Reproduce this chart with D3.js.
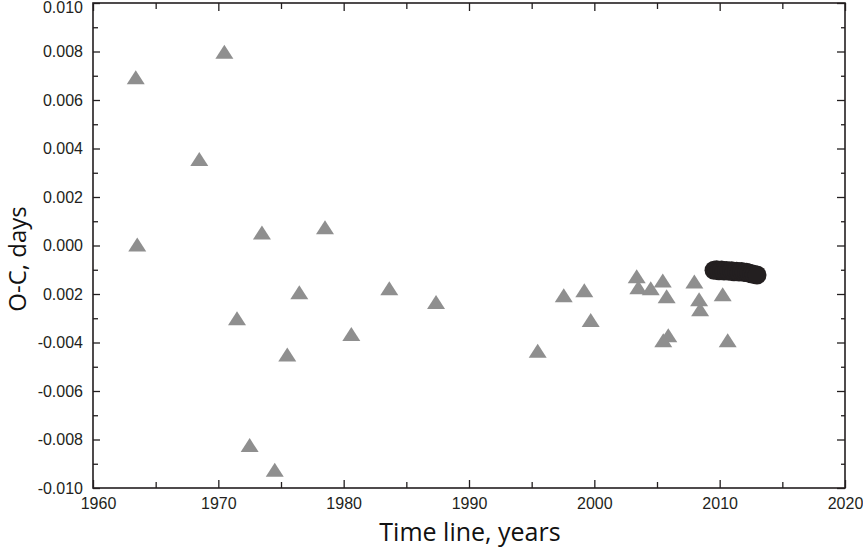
<!DOCTYPE html>
<html>
<head>
<meta charset="utf-8">
<script src="https://cdn.jsdelivr.net/npm/d3@7"></script>
<style>
  html, body { margin: 0; padding: 0; background: #fff; }
  svg { display: block; }
</style>
</head>
<body>
<svg id="chart" width="863" height="547"></svg>
<script>
// ---- Data ----
const triYears = [1963.41, 1970.48, 1968.48, 1963.53, 1973.48, 1978.51, 1976.46, 1983.64, 1987.37,
  1971.49, 1980.61, 1975.50, 1972.50, 1974.50, 1997.56, 1999.20, 1999.71, 1995.48,
  2003.38, 2003.51, 2004.50, 2005.46, 2005.77, 2005.90, 2005.50, 2007.98, 2008.36, 2008.44,
  2010.24, 2010.64];
const triOC = [0.00694, 0.00799, 0.00357, 0.00004, 0.00054, 0.00075, -0.00193, -0.00176, -0.00233,
  -0.00300, -0.00365, -0.00449, -0.00823, -0.00925, -0.00205, -0.00185, -0.00307, -0.00434,
  -0.00127, -0.00172, -0.00176, -0.00144, -0.00209, -0.00370, -0.00391, -0.00148, -0.00222, -0.00263,
  -0.00201, -0.00391];

const dotYears = [2009.55, 2009.75, 2009.95, 2010.15, 2010.35, 2010.55, 2010.75, 2010.95, 2011.15,
  2011.35, 2011.55, 2011.75, 2011.95, 2012.15, 2012.35, 2012.55, 2012.75, 2012.98];
const dotOC = [-0.00102, -0.00100, -0.00104, -0.00101, -0.00105, -0.00103, -0.00106, -0.00104, -0.00108,
  -0.00106, -0.00109, -0.00107, -0.00111, -0.00110, -0.00114, -0.00117, -0.00120, -0.00122];

const xTickValues = [1960, 1970, 1980, 1990, 2000, 2010, 2020];
const xTickLabels = ["1960", "1970", "1980", "1990", "2000", "2010", "2020"];
const yTickValues = [0.010, 0.008, 0.006, 0.004, 0.002, 0.000, -0.002, -0.004, -0.006, -0.008, -0.010];
const yTickLabels = ["0.010", "0.008", "0.006", "0.004", "0.002", "0.000", "0.002", "-0.004", "-0.006", "-0.008", "-0.010"];

const xTitle = "Time line, years";
const yTitle = "O-C, days";

// ---- Layout ----
const svg = d3.select("#chart");
const pLeft = 93, pRight = 845, pTop = 3, pBottom = 488;
const ink = "#231f20";

const x = d3.scaleLinear().domain([1960, 2020]).range([pLeft, pRight]);
const y = d3.scaleLinear().domain([-0.010, 0.010]).range([pBottom, pTop]);

const tickFont = "'Liberation Sans', Arial, sans-serif";

// Minor/major ticks (inward) on all four sides
const xMinor = [1965, 1975, 1985, 1995, 2005, 2015];
const yMinor = [-0.009, -0.007, -0.005, -0.003, -0.001, 0.001, 0.003, 0.005, 0.007, 0.009];

const bottomAxis = d3.axisBottom(x).tickValues(xTickValues).tickSizeInner(-8).tickSizeOuter(0)
  .tickFormat((d, i) => xTickLabels[i]).tickPadding(10);
const bottomMinor = d3.axisBottom(x).tickValues(xMinor).tickSizeInner(-6).tickSizeOuter(0).tickFormat("");
const topAxis = d3.axisTop(x).tickValues(xTickValues).tickSizeInner(-8).tickSizeOuter(0).tickFormat("");
const topMinor = d3.axisTop(x).tickValues(xMinor).tickSizeInner(-6).tickSizeOuter(0).tickFormat("");

const leftAxis = d3.axisLeft(y).tickValues(yTickValues).tickSizeInner(-7).tickSizeOuter(0)
  .tickFormat((d, i) => yTickLabels[i]).tickPadding(10);
const leftMinor = d3.axisLeft(y).tickValues(yMinor).tickSizeInner(-5).tickSizeOuter(0).tickFormat("");
const rightAxis = d3.axisRight(y).tickValues(yTickValues).tickSizeInner(-8).tickSizeOuter(0).tickFormat("");
const rightMinor = d3.axisRight(y).tickValues(yMinor).tickSizeInner(-4).tickSizeOuter(0).tickFormat("");

function styleAxis(g) {
  g.select(".domain").remove();
  g.selectAll(".tick line").attr("stroke", ink).attr("stroke-width", 1.3);
  g.selectAll(".tick text").attr("fill", ink).style("font-family", tickFont).style("font-size", "16px");
}

svg.append("g").attr("transform", `translate(0,${pBottom})`).call(bottomAxis).call(styleAxis)
  .selectAll(".tick text").attr("dx", (d, i) => i === 0 ? 5 : 0);
svg.append("g").attr("transform", `translate(0,${pBottom})`).call(bottomMinor).call(styleAxis);
svg.append("g").attr("transform", `translate(0,${pTop})`).call(topAxis).call(styleAxis);
svg.append("g").attr("transform", `translate(0,${pTop})`).call(topMinor).call(styleAxis);
svg.append("g").attr("transform", `translate(${pLeft},0)`).call(leftAxis).call(styleAxis)
  .selectAll(".tick text").attr("y", (d, i) => i === 0 ? 4 : 0);
svg.append("g").attr("transform", `translate(${pLeft},0)`).call(leftMinor).call(styleAxis);
svg.append("g").attr("transform", `translate(${pRight},0)`).call(rightAxis).call(styleAxis);
svg.append("g").attr("transform", `translate(${pRight},0)`).call(rightMinor).call(styleAxis);

// Frame
svg.append("rect")
  .attr("x", x(1960)).attr("y", y(0.010))
  .attr("width", x(2020) - x(1960)).attr("height", y(-0.010) - y(0.010))
  .attr("fill", "none").attr("stroke", ink).attr("stroke-width", 1.6);

// Triangles (centered on bounding box)
const triPath = d3.path();
const tw = 18, th = 14;
triPath.moveTo(0, -th / 2); triPath.lineTo(tw / 2, th / 2); triPath.lineTo(-tw / 2, th / 2); triPath.closePath();
const triD = triPath.toString();

svg.append("g").selectAll("path")
  .data(triYears.map((t, i) => ({ t, v: triOC[i] })))
  .join("path")
  .attr("d", triD)
  .attr("transform", d => `translate(${x(d.t)},${y(d.v)})`)
  .attr("fill", "#8f8f8f");

// Black circles
svg.append("g").selectAll("circle")
  .data(dotYears.map((t, i) => ({ t, v: dotOC[i] })))
  .join("circle")
  .attr("cx", d => x(d.t)).attr("cy", d => y(d.v))
  .attr("r", 9.5)
  .attr("fill", ink);

// Titles
const titleFont = "'Open Sans', 'Noto Sans', sans-serif";
svg.append("text")
  .attr("x", 470).attr("y", 541)
  .attr("text-anchor", "middle")
  .style("font-family", titleFont).style("font-size", "25px").attr("fill", "#111")
  .text(xTitle);

svg.append("text")
  .attr("transform", "translate(26,259) rotate(-90)")
  .attr("text-anchor", "middle")
  .style("font-family", titleFont).style("font-size", "24px").attr("fill", "#111")
  .text(yTitle);
</script>
</body>
</html>
